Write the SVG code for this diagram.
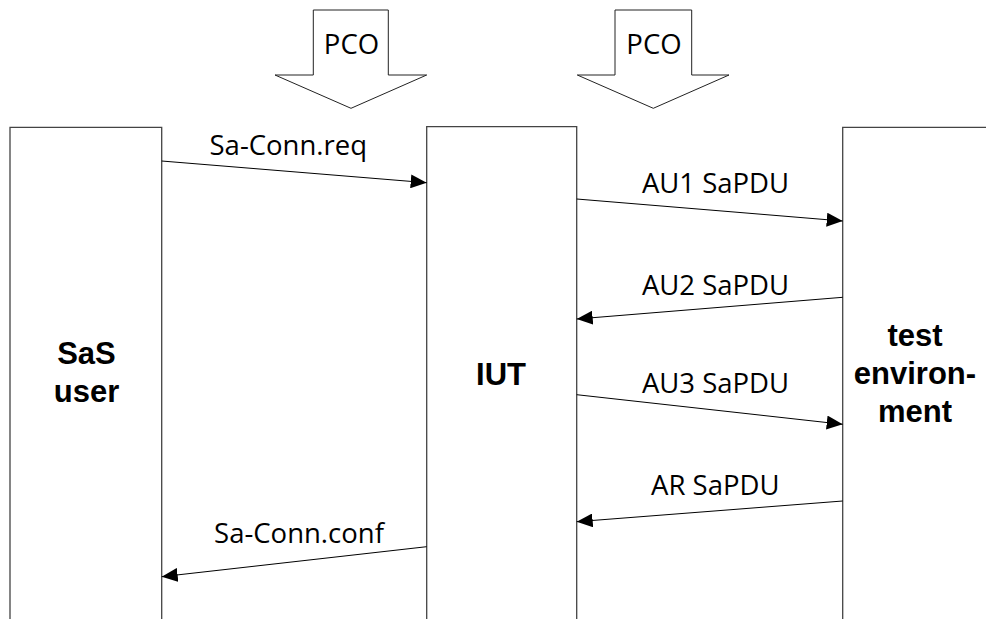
<svg xmlns="http://www.w3.org/2000/svg" width="986" height="619" viewBox="0 0 986 619">
<style>
.box{fill:none;stroke:#444;stroke-width:1.3}
.pco{fill:#fff;stroke:#222;stroke-width:1}
.msg{stroke:#000;stroke-width:1;fill:none;marker-end:url(#ah)}
.lbl{font-family:"Open Sans","Noto Sans",sans-serif;font-size:27.5px;fill:#000;text-anchor:middle}
.name{font-family:"Liberation Sans",Arial,sans-serif;font-weight:bold;font-size:31px;fill:#000;text-anchor:middle}
</style>
<defs>
<marker id="ah" markerUnits="userSpaceOnUse" markerWidth="16" markerHeight="14" refX="16" refY="7" orient="auto">
<path d="M0,0 L16,7 L0,14 Z" fill="#000"/>
</marker>
</defs>
<rect width="986" height="619" fill="#fff"/>
<g id="pco1">
<polygon class="pco" points="313.3,10 388.3,10 388.3,75 426.7,75 351,108.3 275,75 313.3,75"/>
<text class="lbl" x="351.5" y="54">PCO</text>
</g>
<g id="pco2">
<polygon class="pco" points="615,10 691.7,10 691.7,75 729,75 653.3,108.3 577.3,75 615,75"/>
<text class="lbl" x="654" y="54">PCO</text>
</g>
<g id="sas-user">
<path class="box" d="M10,625 V127.3 H161.7 V625"/>
<text class="name" x="86.5" y="364">SaS</text>
<text class="name" x="86.5" y="401.7">user</text>
</g>
<g id="iut">
<path class="box" d="M426.7,625 V126.7 H576.7 V625"/>
<text class="name" x="501" y="385">IUT</text>
</g>
<g id="test-env">
<path class="box" d="M842.7,625 V127.3 H990 V625"/>
<text class="name" x="915" y="346">test</text>
<text class="name" x="915" y="384">environ-</text>
<text class="name" x="915" y="421.7">ment</text>
</g>
<g id="connectors">
<line class="msg" x1="161.7" y1="161" x2="426.7" y2="182.7"/>
<line class="msg" x1="576.7" y1="199" x2="842.7" y2="221"/>
<line class="msg" x1="842.7" y1="297.3" x2="576.7" y2="319"/>
<line class="msg" x1="576.7" y1="394.7" x2="842.7" y2="424.3"/>
<line class="msg" x1="842.7" y1="501" x2="576.7" y2="521.7"/>
<line class="msg" x1="426.7" y1="546.7" x2="161.7" y2="576.7"/>
<text class="lbl" x="288.3" y="155">Sa-Conn.req</text>
<text class="lbl" x="715.5" y="193.3">AU1 SaPDU</text>
<text class="lbl" x="715.5" y="295">AU2 SaPDU</text>
<text class="lbl" x="715.5" y="392.5">AU3 SaPDU</text>
<text class="lbl" x="715.3" y="495">AR SaPDU</text>
<text class="lbl" x="299" y="543.3">Sa-Conn.conf</text>
</g>
</svg>
